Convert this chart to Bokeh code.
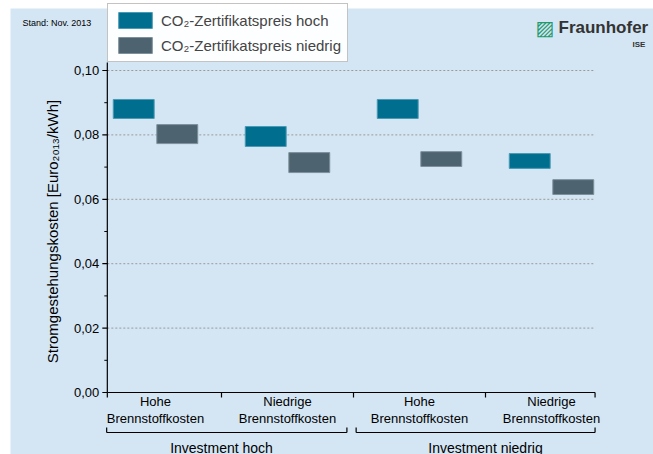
from bokeh.plotting import figure
from bokeh.models import Range1d, Legend, LegendItem
from bokeh.core.properties import value
from bokeh.embed import file_html
from bokeh.resources import INLINE

groups = [1, 2, 3, 4]
cat_top = ["Hohe", "Niedrige", "Hohe", "Niedrige"]
cat_bottom = ["Brennstoffkosten"] * 4
invest_labels = ["Investment hoch", "Investment niedrig"]
hoch_low = [0.0851, 0.0764, 0.0851, 0.0696]
hoch_high = [0.0910, 0.0826, 0.0910, 0.0742]
nied_low = [0.0773, 0.0683, 0.0702, 0.0615]
nied_high = [0.0832, 0.0745, 0.0748, 0.0661]
y_ticks = [0.0, 0.02, 0.04, 0.06, 0.08, 0.10]
y_minor = [0.01, 0.03, 0.05, 0.07, 0.09]
y_tick_labels = ["0,00", "0,02", "0,04", "0,06", "0,08", "0,10"]

BG = "#d4e6f4"
C1 = "#006e8f"
C2 = "#4d6370"
FONT = value("Liberation Sans")

X0, X1 = 0.635, 4.33
YTOP = 0.1025
PXX = 1 / 132.0
PXY = 1 / 3220.0
XL, XR = 1 - 155 * PXX, 1 + 498 * PXX
YT, YB = 392 * PXY, -62 * PXY

def px(xp):
    return 1 + (xp - 155) * PXX

def py(yp):
    return (392 - yp) * PXY

p = figure(width=653, height=454, output_backend="svg", toolbar_location=None,
           x_range=Range1d(XL, XR), y_range=Range1d(YB, YT), min_border=0)
p.axis.visible = False
p.grid.visible = False
p.background_fill_color = "white"
p.border_fill_color = "white"
p.outline_line_color = None

# coloured panel (white page margin on top/left like reference)
p.quad(left=[px(10)], right=[XR], bottom=[YB], top=[py(8)], fill_color=BG, line_color=None)

# grid
p.segment(x0=[X0] * 5, x1=[X1] * 5, y0=y_ticks[1:], y1=y_ticks[1:],
          line_color="#9a9a9a", line_dash="2 2", line_width=1)

w = 0.31
r1 = p.quad(left=[g - 0.165 - w/2 for g in groups], right=[g - 0.165 + w/2 for g in groups],
            bottom=hoch_low, top=hoch_high, fill_color=C1, line_color="#4a9ab5", line_width=1)
r2 = p.quad(left=[g + 0.165 - w/2 for g in groups], right=[g + 0.165 + w/2 for g in groups],
            bottom=nied_low, top=nied_high, fill_color=C2, line_color="#7d909b", line_width=1)

# axes
p.segment(x0=[X0, X0], y0=[0, 0], x1=[X1, X0], y1=[0, YTOP], line_color="black", line_width=1.2)
xt = [X0, 1.5, 2.5, 3.5, X1]
p.segment(x0=xt, x1=xt, y0=[0] * 5, y1=[-5 * PXY] * 5, line_color="black", line_width=1.2)
p.segment(x0=[X0] * 6, x1=[X0 - 5 * PXX] * 6, y0=y_ticks, y1=y_ticks, line_color="black", line_width=1.2)
p.segment(x0=[X0] * 5, x1=[X0 - 3 * PXX] * 5, y0=y_minor, y1=y_minor, line_color="black", line_width=1)
p.text(x=[X0 - 8 * PXX] * 6, y=y_ticks, text=y_tick_labels, text_align="right", text_baseline="middle",
       text_font=FONT, text_font_size="13px")
p.text(x=[px(52)], y=[0.05], text=["Stromgestehungskosten [Euro₂₀₁₃/kWh]"], angle=1.5708,
       text_align="center", text_baseline="middle", text_font=FONT, text_font_size="15px")

# category labels
p.text(x=groups, y=[py(401)] * 4, text=cat_top, text_align="center", text_baseline="middle",
       text_font=FONT, text_font_size="13px")
p.text(x=groups, y=[py(418)] * 4, text=cat_bottom, text_align="center", text_baseline="middle",
       text_font=FONT, text_font_size="13px")
p.text(x=[1.5, 3.5], y=[py(447)] * 2, text=invest_labels, text_align="center", text_baseline="middle",
       text_font=FONT, text_font_size="14px")
bx0 = [0.63, 2.52]
bx1 = [2.45, 4.33]
yb = py(432)
yt = py(427)
p.segment(x0=bx0 + bx0 + bx1, x1=bx1 + bx0 + bx1, y0=[yb] * 6, y1=[yb, yb, yt, yt, yt, yt],
          line_color="black", line_width=1.2)

# header texts
p.text(x=[px(22)], y=[py(22)], text=["Stand: Nov. 2013"], text_baseline="middle",
       text_font=FONT, text_font_size="9px")
p.text(x=[px(558)], y=[py(27)], text=["Fraunhofer"], text_baseline="middle",
       text_font=FONT, text_font_size="17px", text_font_style="bold", text_color="#333333")
p.text(x=[px(535)], y=[py(27)], text=["▨"], text_baseline="middle",
       text_font=value("DejaVu Sans"), text_font_size="20px", text_color="#1f9a6e")
p.text(x=[px(632)], y=[py(44)], text=["ISE"], text_baseline="middle",
       text_font=FONT, text_font_size="8px", text_font_style="bold", text_color="#333333")

legend = Legend(items=[LegendItem(label="CO₂-Zertifikatspreis hoch", renderers=[r1]),
                       LegendItem(label="CO₂-Zertifikatspreis niedrig", renderers=[r2])],
                location=(107, 454 - 62), glyph_width=42, glyph_height=20, label_text_font="Liberation Sans",
                label_text_font_size="15px", border_line_color="#888888", padding=6, spacing=5,
                margin=0)
p.add_layout(legend, "center")

open("out.html", "w").write(file_html(p, INLINE))
